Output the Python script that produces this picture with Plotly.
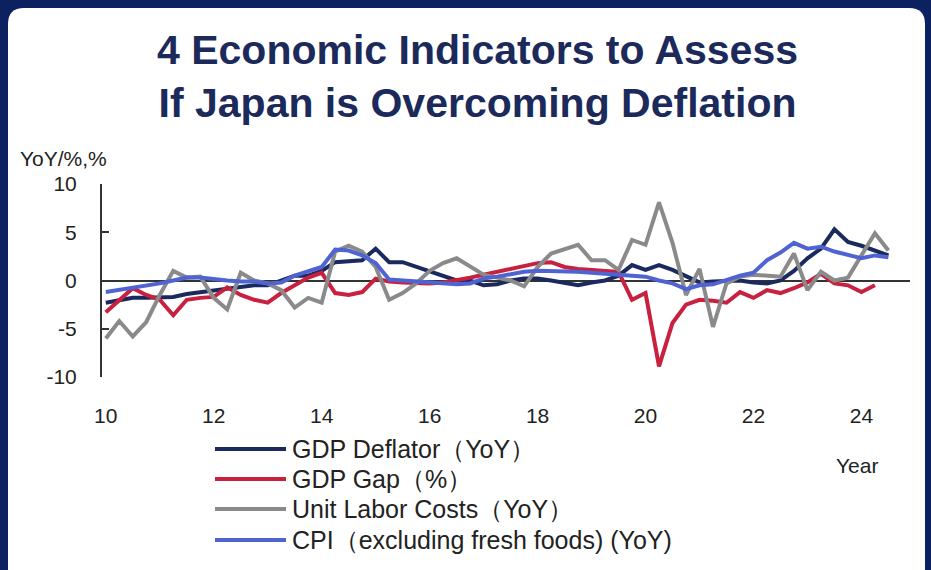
import plotly.graph_objects as go

# ---- data (quarterly, 2010Q1 .. 2024Q3) ----
quarters = [10 + 0.25 * i for i in range(59)]

gdp_deflator = [-2.3, -2.0, -1.8, -1.8, -1.7, -1.7, -1.4, -1.2, -1.0, -0.8,
                -0.7, -0.5, -0.5, 0.0, 0.5, 0.5, 1.0, 1.9, 2.0, 2.1,
                3.3, 1.9, 1.9, 1.4, 1.0, 0.5, 0.0, 0.0, -0.5, -0.4,
                0.0, 0.2, 0.2, 0.0, -0.3, -0.5, -0.2, 0.0, 0.5, 1.6,
                1.1, 1.6, 1.1, 0.4, -0.2, -0.1, -0.1, 0.0, -0.2, -0.3,
                0.0, 1.0, 2.3, 3.3, 5.3, 4.0, 3.6, 3.1, 2.6]

gdp_gap = [-3.3, -2.0, -0.8, -1.5, -2.0, -3.6, -2.0, -1.8, -1.7, -0.7,
           -1.5, -2.0, -2.3, -1.3, -0.5, 0.3, 0.8, -1.3, -1.5, -1.2,
           0.2, -0.1, -0.2, -0.3, -0.3, -0.2, 0.0, 0.3, 0.6, 0.9,
           1.3, 1.6, 1.8, 1.9, 1.4, 1.2, 1.1, 1.0, 0.9, -2.0,
           -1.3, -8.9, -4.4, -2.5, -2.0, -2.1, -2.3, -1.2, -1.8, -1.0,
           -1.3, -0.8, -0.2, 0.7, -0.3, -0.5, -1.2, -0.5]

unit_labor = [-6.0, -4.2, -5.8, -4.3, -1.5, 1.0, 0.3, 0.4, -1.8, -3.0,
              0.8, 0.0, -0.3, -1.0, -2.8, -1.8, -2.3, 3.0, 3.6, 3.0,
              1.4, -2.0, -1.3, -0.3, 1.0, 1.8, 2.3, 1.5, 0.6, 0.3,
              0.0, -0.6, 1.4, 2.8, 3.2, 3.7, 2.1, 2.1, 1.1, 4.2,
              3.7, 8.1, 3.9, -1.5, 1.2, -4.8, -0.3, 0.4, 0.6, 0.5,
              0.4, 2.8, -1.0, 0.9, 0.0, 0.3, 2.6, 4.9, 3.1]

cpi_core = [-1.2, -1.0, -0.8, -0.5, -0.3, 0.0, 0.3, 0.3, 0.1, 0.0,
            -0.1, -0.1, -0.3, -0.2, 0.5, 1.0, 1.4, 3.2, 3.1, 2.6,
            1.8, 0.1, 0.0, 0.0, -0.2, -0.3, -0.4, -0.3, 0.2, 0.4,
            0.7, 0.9, 1.0, 1.0, 1.0, 0.9, 0.8, 0.7, 0.6, 0.5,
            0.4, 0.0, -0.3, -0.9, -0.5, -0.4, 0.1, 0.5, 0.8, 2.1,
            2.9, 3.9, 3.3, 3.5, 3.0, 2.6, 2.3, 2.6, 2.4]

series_names = ["GDP Deflator（YoY）", "GDP Gap（%）",
                "Unit Labor Costs（YoY）", "CPI（excluding fresh foods) (YoY)"]
series_colors = ["#1b2a5e", "#c8203e", "#8a8a8a", "#4f63d2"]

x_ticks = [10, 12, 14, 16, 18, 20, 22, 24]
y_ticks = [-10, -5, 0, 5, 10]
y_ticktext = ["-10", "-5", "0", "5", "10"]

# ---- layout geometry (pixels) ----
W, H = 931, 570
PL, PR, PT, PB = 102, 910, 184, 377


def px(xpix):
    return (xpix - PL) / (PR - PL)


def py(ypix):
    return (PB - ypix) / (PB - PT)


FONT = "Liberation Sans, Arial, sans-serif"
TXT = "#222222"

fig = go.Figure()
all_series = [gdp_deflator, gdp_gap, unit_labor, cpi_core]
for k, (name, vals, col) in enumerate(zip(series_names, all_series, series_colors)):
    fig.add_trace(go.Scatter(x=quarters[:len(vals)], y=vals, mode="lines",
                             name=name, line=dict(color=col, width=4),
                             showlegend=False,
                             yaxis="y2" if k == len(all_series) - 1 else "y"))

# rounded white panel
L, T, R, B, r = 8, 8, 925, 590, 16
path = (f"M {px(L)},{py(T + r)} Q {px(L)},{py(T)} {px(L + r)},{py(T)} "
        f"L {px(R - r)},{py(T)} Q {px(R)},{py(T)} {px(R)},{py(T + r)} "
        f"L {px(R)},{py(B)} L {px(L)},{py(B)} Z")
shapes = [dict(type="path", path=path, xref="paper", yref="paper",
               fillcolor="white", line=dict(width=0), layer="below")]

annotations = [
    dict(text="<b>4 Economic Indicators to Assess<br>If Japan is Overcoming Deflation</b>",
         x=px(477), y=py(76), xref="paper", yref="paper", showarrow=False,
         xanchor="center", yanchor="middle",
         font=dict(size=41, color="#1b2a5a", family=FONT), align="center"),
    dict(text="YoY/%,%", x=px(18), y=py(158), xref="paper", yref="paper",
         xanchor="left", yanchor="middle", showarrow=False,
         font=dict(size=21, color=TXT)),
    dict(text="Year", x=px(857), y=py(465), xref="paper", yref="paper",
         xanchor="center", yanchor="middle", showarrow=False,
         font=dict(size=21, color=TXT)),
]

# manual legend
row_y = [449, 479, 509, 540]
for name, col, ry in zip(series_names, series_colors, row_y):
    shapes.append(dict(type="line", xref="paper", yref="paper",
                       x0=px(215), x1=px(286), y0=py(ry), y1=py(ry),
                       line=dict(color=col, width=4)))
    annotations.append(dict(text=name, x=px(290), y=py(ry), xref="paper",
                            yref="paper", xanchor="left", yanchor="middle",
                            showarrow=False, font=dict(size=25, color=TXT)))

fig.update_layout(
    width=W, height=H,
    margin=dict(l=PL, r=W - PR, t=PT, b=H - PB),
    paper_bgcolor="#0c2260",
    plot_bgcolor="rgba(0,0,0,0)",
    font=dict(family=FONT, color=TXT),
    showlegend=False,
    shapes=shapes,
    annotations=annotations,
    xaxis=dict(range=[9.93, 24.9], tickvals=x_ticks,
               ticktext=[str(v) for v in x_ticks], showgrid=False,
               zeroline=False, showline=False, ticks="",
               ticklabelstandoff=24, tickfont=dict(size=21, color=TXT)),
    yaxis=dict(range=[-10, 10], tickvals=y_ticks, ticktext=y_ticktext,
               showgrid=False, zeroline=True, zerolinecolor="#333333",
               zerolinewidth=2, showline=False,
               ticks="outside", ticklen=20, tickcolor="rgba(0,0,0,0)",
               tickfont=dict(size=21, color=TXT)),
    yaxis2=dict(range=[-10, 10], overlaying="y", side="left", anchor="x",
                tickvals=y_ticks, showticklabels=False, showgrid=False,
                zeroline=False, showline=True, linecolor="#333333",
                linewidth=2, ticks="inside", ticklen=7, tickwidth=2,
                tickcolor="#333333"),
)

fig.write_html("out.html")
